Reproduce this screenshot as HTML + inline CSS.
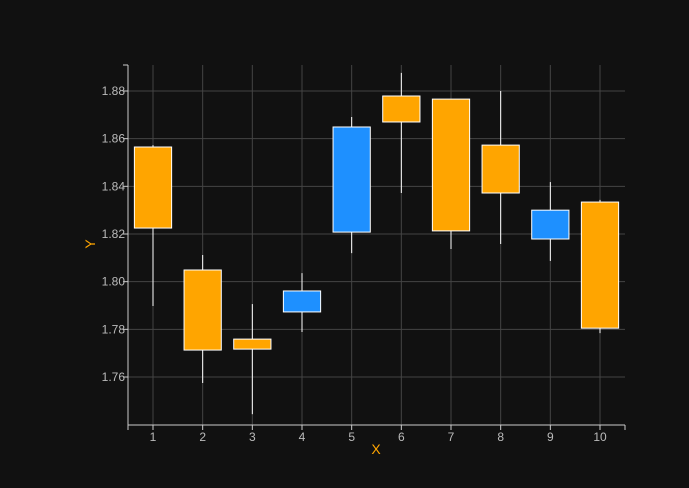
<!DOCTYPE html>
<html><head><meta charset="utf-8"><style>
html,body{margin:0;padding:0;background:#111111;}
svg{display:block;font-family:"Liberation Sans",sans-serif;}
</style></head><body>
<svg id="chart" width="689" height="488">
<rect width="689" height="488" fill="#111111"/>
<g id="grid"></g>
<g id="axes"></g>
<g id="marks"></g>
<text x="376" y="454" fill="#ffa500" font-size="14" text-anchor="middle">X</text>
<text x="95" y="244" fill="#ffa500" font-size="14" text-anchor="middle" transform="rotate(-90 95 244)">Y</text>
</svg>
<script>
const categories=[1,2,3,4,5,6,7,8,9,10];
const opens=[1.8565,1.8049,1.7759,1.7873,1.8208,1.8779,1.8766,1.8573,1.8179,1.8334];
const closes=[1.8225,1.7713,1.7717,1.7961,1.8649,1.8670,1.8213,1.8372,1.8300,1.7805];
const highs=[1.8573,1.8112,1.7906,1.8036,1.8691,1.8876,1.8766,1.8800,1.8418,1.8343];
const lows=[1.7898,1.7575,1.7444,1.7789,1.8120,1.8372,1.8137,1.8158,1.8087,1.7784];
const yTicks=[1.76,1.78,1.80,1.82,1.84,1.86,1.88];
const yTickLabels=["1.76","1.78","1.80","1.82","1.84","1.86","1.88"];
const NS="http://www.w3.org/2000/svg";
const L=128,R=625,T=65,B=425;
const X=v=>153+(v-1)*(600-153)/9;
const Y=v=>91+(1.88-v)*(377-91)/0.12;
function mk(p,tag,a){const e=document.createElementNS(NS,tag);for(const k in a)e.setAttribute(k,a[k]);p.appendChild(e);return e;}
const grid=document.getElementById('grid'),axes=document.getElementById('axes'),marks=document.getElementById('marks');
categories.forEach(c=>{
 const g=mk(grid,'line',{x1:X(c),x2:X(c),y1:T,y2:B,stroke:'#444',"stroke-width":1});
 
 
 const t=mk(axes,'line',{x1:X(c),x2:X(c),y1:B,y2:B+5,stroke:'#ccc'});
 
 
 const l=mk(axes,'text',{x:X(c),y:B+11+5,fill:'#bbb',"font-size":12,"text-anchor":"middle"});l.textContent=c;
 
 
});
yTicks.forEach((v,i)=>{
 const g=mk(grid,'line',{x1:L,x2:R,y1:Y(v),y2:Y(v),stroke:'#444',"stroke-width":1});
 
 
 const t=mk(axes,'line',{x1:L-5,x2:L,y1:Y(v),y2:Y(v),stroke:'#ccc'});
 
 
 const l=mk(axes,'text',{x:L-3,y:Y(v)+4,fill:'#bbb',"font-size":12,"text-anchor":"end"});l.textContent=yTickLabels[i];
 
 
});
let a=mk(axes,'line',{x1:L,x2:L,y1:T,y2:B,stroke:'#ccc'});

a=mk(axes,'line',{x1:L,x2:R,y1:B,y2:B,stroke:'#ccc'});

[[L-5,T,L,T],[L,B,L,B+5],[R,B,R,B+5]].forEach(p=>{mk(axes,'line',{x1:p[0],y1:p[1],x2:p[2],y2:p[3],stroke:'#ccc'});});
const hw=0.375*(600-153)/9;
categories.forEach((c,i)=>{
 const up=closes[i]>=opens[i];
 const col=up?'#1e90ff':'#ffa500';
 const w=mk(marks,'line',{x1:X(c),x2:X(c),y1:Y(highs[i]),y2:Y(lows[i]),stroke:'#fff',"stroke-width":1});
 
 
 const top=Y(Math.max(opens[i],closes[i])),bot=Y(Math.min(opens[i],closes[i]));
 const r=mk(marks,'rect',{x:X(c)-hw,y:top,width:2*hw,height:Math.max(1,bot-top),fill:col,stroke:'#fff',"stroke-width":1});
 
 
});
</script>
</body></html>
